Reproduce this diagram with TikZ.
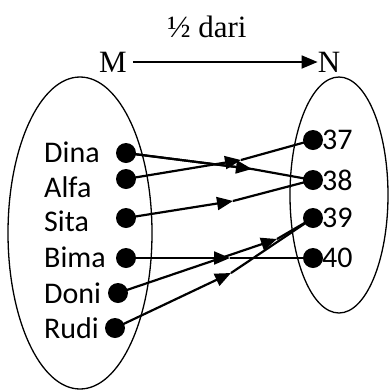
\documentclass[tikz,border=0pt]{standalone}
\usepackage{fontspec}
\setmainfont{Liberation Serif}
\newfontfamily\lblfont{Carlito}
\usetikzlibrary{arrows.meta,decorations.markings}
\tikzset{
  ell/.style={draw, line width=1.3pt},
  dotnode/.style={circle, fill=black, inner sep=0pt, minimum size=20pt},
  lbl/.style={font=\lblfont\fontsize{30}{30}\selectfont, anchor=west, inner sep=0pt},
  ttl/.style={font=\fontsize{31}{31}\selectfont, inner sep=0pt},
  conn/.style={line width=2.2pt},
  tip/.style={-{Triangle[length=16pt,width=13pt]}},
}
\begin{document}
\begin{tikzpicture}[x=1pt,y=-1pt]
\useasboundingbox (0,0) rectangle (390,392);
% ellipses
\draw[ell] (80,233) ellipse [x radius=72, y radius=156];
\draw[ell] (339,195) ellipse [x radius=49, y radius=118];
% title
\node[ttl] (title) at (207,27) {½ dari};
\node[ttl] (M) at (113,62) {M};
\node[ttl] (N) at (329,62) {N};
\draw[line width=1.8pt, tip, shorten <=6pt] (M.east) -- (N.west);
% left labels
\node[lbl] (lDina) at (44,152) {Dina};
\node[lbl] (lAlfa) at (44,187) {Alfa};
\node[lbl] (lSita) at (44,221) {Sita};
\node[lbl] (lBima) at (44,257) {Bima};
\node[lbl] (lDoni) at (44,293) {Doni};
\node[lbl] (lRudi) at (44,328) {Rudi};
% left dots
\node[dotnode] (dina) at (126,153) {};
\node[dotnode] (alfa) at (126,179) {};
\node[dotnode] (sita) at (126,218) {};
\node[dotnode] (bima) at (126,258) {};
\node[dotnode] (doni) at (118,293) {};
\node[dotnode] (rudi) at (115,328) {};
% right dots and numbers
\node[dotnode] (n37) at (313,140) {};
\node[dotnode] (n38) at (313,180) {};
\node[dotnode] (n39) at (313,218) {};
\node[dotnode] (n40) at (313,258) {};
\node[lbl] (t37) at (322,140) {37};
\node[lbl] (t38) at (322,180) {38};
\node[lbl] (t39) at (322,218) {39};
\node[lbl] (t40) at (322,258) {40};
% arrow tip coordinates
\coordinate (cAlfa) at (241,160);
\coordinate (cDina) at (252,169);
\coordinate (cSita) at (233,201);
\coordinate (cBima) at (230,258);
\coordinate (cDoni) at (277,239);
\coordinate (cRudi) at (231,273);
% connectors
\draw[conn] (dina.center) -- (cDina) -- (n38.center);
\draw[conn, tip] (dina.center) -- (cDina);
\draw[conn] (cAlfa) -- (n37.center);
\draw[conn, tip] (alfa.center) -- (cAlfa);
\draw[conn] (cSita) -- (n38.center);
\draw[conn, tip] (sita.center) -- (cSita);
\draw[conn] (cBima) -- (n40.center);
\draw[conn, tip] (bima.center) -- (cBima);
\draw[conn] (cDoni) -- (n39.center);
\draw[conn, tip] (doni.center) -- (cDoni);
\draw[conn] (cRudi) -- (n39.center);
\draw[conn, tip] (rudi.center) -- (cRudi);
\end{tikzpicture}
\end{document}
